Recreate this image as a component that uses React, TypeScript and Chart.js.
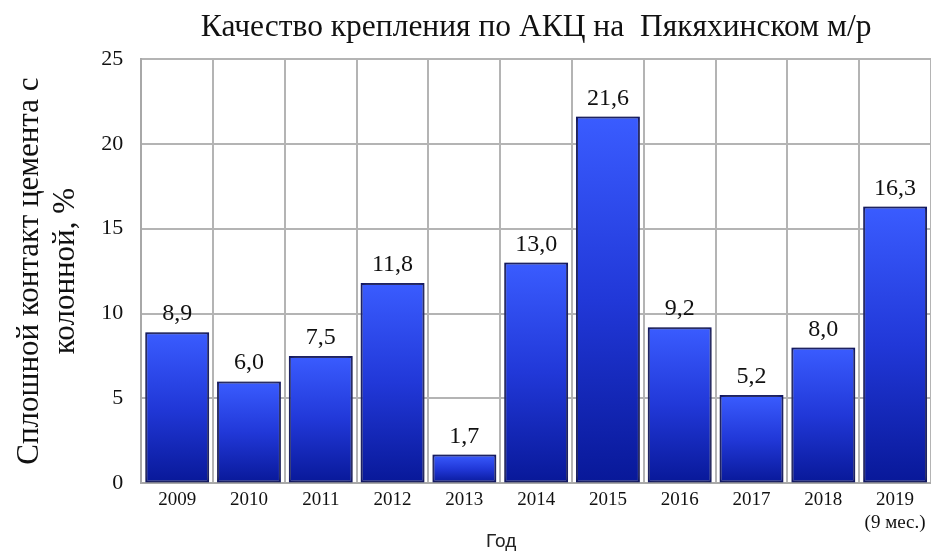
import React, { useEffect, useRef } from "react";
import { Chart, registerables } from "chart.js";

Chart.register(...registerables);

const categories: (string | string[])[] = ["2009", "2010", "2011", "2012", "2013", "2014", "2015", "2016", "2017", "2018", ["2019", "(9 мес.)"]];
const values: number[] = [8.9, 6.0, 7.5, 11.8, 1.7, 13.0, 21.6, 9.2, 5.2, 8.0, 16.3];
const titleText = "Качество крепления по АКЦ на  Пякяхинском м/р";
const yTitle = ["Сплошной контакт цемента с", "колонной, %"];
const xTitle = "Год";

const serif = "'Liberation Serif', 'Times New Roman', serif";
const sans = "'Liberation Sans', Arial, sans-serif";

const labelPlugin = {
  id: "barLabels",
  afterDatasetsDraw(chart: any) {
    const ctx = chart.ctx;
    const meta = chart.getDatasetMeta(0);
    ctx.save();
    ctx.font = `24px ${serif}`;
    ctx.fillStyle = "#111";
    ctx.textAlign = "center";
    ctx.textBaseline = "alphabetic";
    meta.data.forEach((bar: any, i: number) => {
      const txt = values[i].toFixed(1).replace(".", ",");
      ctx.fillText(txt, bar.x, bar.y - 12);
    });
    ctx.restore();
  },
};

const xTitlePlugin = {
  id: "xTitle",
  afterDraw(chart: any) {
    const ctx = chart.ctx;
    const area = chart.chartArea;
    ctx.save();
    ctx.font = `19px ${sans}`;
    ctx.fillStyle = "#222";
    ctx.textAlign = "center";
    ctx.textBaseline = "middle";
    ctx.fillText(xTitle, (area.left + area.right) / 2 - 35, chart.height - 12);
    ctx.restore();
  },
};

const shadowPlugin = {
  id: "barShadow",
  beforeDatasetDraw(chart: any) {
    const ctx = chart.ctx;
    ctx.save();
    ctx.shadowColor = "rgba(110,110,110,0.9)";
    ctx.shadowBlur = 5;
    ctx.shadowOffsetX = 0;
    ctx.shadowOffsetY = 0;
  },
  afterDatasetDraw(chart: any) {
    chart.ctx.restore();
  },
};

export default function App() {
  const ref = useRef<HTMLCanvasElement | null>(null);
  useEffect(() => {
    document.body.style.margin = "0";
    const canvas = ref.current!;
    const chart = new Chart(canvas, {
      type: "bar",
      data: {
        labels: categories as any,
        datasets: [
          {
            data: values,
            backgroundColor: (c: any) => {
              const chartRef = c.chart;
              const y = chartRef.scales?.y;
              if (!chartRef.chartArea || !y || c.raw === undefined) return "#2040e0";
              const top = y.getPixelForValue(c.raw);
              const bottom = y.getPixelForValue(0);
              const g = chartRef.ctx.createLinearGradient(0, top, 0, bottom);
              g.addColorStop(0, "#3a5cff");
              g.addColorStop(0.5, "#2138d8");
              g.addColorStop(1, "#081898");
              return g;
            },
            borderColor: "#0a1060",
            borderWidth: 2,
            borderSkipped: false,
            barPercentage: 0.89,
            categoryPercentage: 1,
          },
        ],
      },
      options: {
        responsive: false,
        animation: false,
        devicePixelRatio: 1,
        layout: { padding: { left: 6, right: 0, top: 0, bottom: 15 } },
        plugins: {
          legend: { display: false },
          tooltip: { enabled: false },
          title: {
            display: true,
            text: titleText,
            fullSize: false,
            color: "#111",
            font: { family: serif, size: 31.5, weight: "normal", lineHeight: 1.2 },
            padding: { top: 9, bottom: 12 },
          },
        },
        scales: {
          x: {
            grid: { color: "#b4b4b4", lineWidth: 2, drawTicks: false, offset: true },
            border: { color: "#a8a8a8", width: 2 },
            ticks: { color: "#111", font: { family: serif, size: 19, lineHeight: 1.2 }, padding: 5, maxRotation: 0 },
          },
          y: {
            min: 0,
            max: 25,
            ticks: { stepSize: 5, color: "#111", font: { family: serif, size: 22 }, padding: 18 },
            grid: { color: "#b4b4b4", lineWidth: 2, drawTicks: false },
            border: { color: "#a8a8a8", width: 2 },
            title: {
              display: true,
              text: yTitle,
              color: "#111",
              font: { family: serif, size: 31, lineHeight: 1.15 },
              padding: { top: 6, bottom: 0 },
            },
          },
        },
      },
      plugins: [shadowPlugin, labelPlugin, xTitlePlugin],
    });
    return () => chart.destroy();
  }, []);
  return <canvas ref={ref} width={931} height={554} style={{ display: "block", width: 931, height: 554 }} />;
}
